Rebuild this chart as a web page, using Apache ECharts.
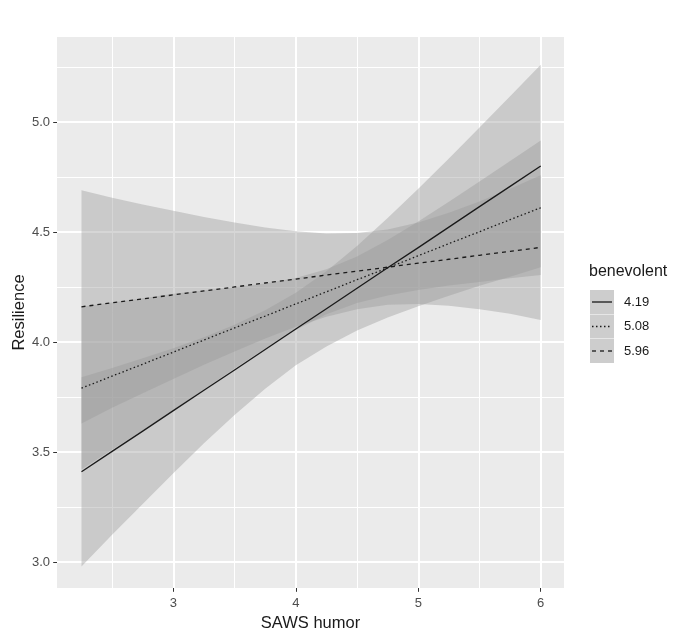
<!DOCTYPE html>
<html><head><meta charset="utf-8">
<script src="https://cdn.jsdelivr.net/npm/echarts@6/dist/echarts.min.js"></script>
<style>html,body{margin:0;padding:0;background:#fff}#c{width:685px;height:639px}</style>
</head><body><div id="c"></div>
<script>
// SAWS humor values at which fitted values / bands were read
const humor = [2.25, 2.5, 2.75, 3, 3.25, 3.5, 3.75, 4, 4.25, 4.5, 4.75, 5, 5.25, 5.5, 5.75, 6];
const levels = ['4.19', '5.08', '5.96'];

// benevolent = 4.19 (solid)
const fit419 = [3.410, 3.503, 3.595, 3.688, 3.781, 3.873, 3.966, 4.059, 4.151, 4.244, 4.337, 4.429, 4.522, 4.615, 4.707, 4.800];
const lo419  = [2.980, 3.124, 3.264, 3.404, 3.540, 3.668, 3.788, 3.894, 3.980, 4.052, 4.111, 4.162, 4.210, 4.255, 4.297, 4.340];
const hi419  = [3.840, 3.882, 3.926, 3.972, 4.022, 4.078, 4.144, 4.224, 4.322, 4.436, 4.563, 4.696, 4.834, 4.975, 5.117, 5.260];

// benevolent = 5.08 (dotted)
const fit508 = [3.790, 3.845, 3.899, 3.954, 4.009, 4.064, 4.118, 4.173, 4.228, 4.283, 4.337, 4.392, 4.447, 4.501, 4.556, 4.610];
const lo508  = [3.420, 3.510, 3.599, 3.689, 3.784, 3.879, 3.970, 4.055, 4.126, 4.177, 4.211, 4.236, 4.257, 4.273, 4.290, 4.304];
const hi508  = [4.160, 4.180, 4.199, 4.219, 4.234, 4.249, 4.266, 4.291, 4.330, 4.389, 4.463, 4.548, 4.637, 4.729, 4.822, 4.916];

// benevolent = 5.96 (dashed)
const fit596 = [4.160, 4.178, 4.196, 4.214, 4.232, 4.250, 4.268, 4.286, 4.304, 4.322, 4.340, 4.358, 4.376, 4.394, 4.412, 4.430];
const lo596  = [3.630, 3.701, 3.767, 3.832, 3.896, 3.957, 4.016, 4.069, 4.115, 4.149, 4.169, 4.173, 4.165, 4.149, 4.128, 4.100];
const hi596  = [4.690, 4.655, 4.625, 4.596, 4.568, 4.543, 4.520, 4.503, 4.493, 4.495, 4.511, 4.543, 4.587, 4.639, 4.696, 4.758];

const xTicks = [3, 4, 5, 6];
const xMinor = [2.5, 3.5, 4.5, 5.5];
const yTicks = [3.0, 3.5, 4.0, 4.5, 5.0];
const yMinor = [3.25, 3.75, 4.25, 4.75, 5.25];

const FONT = '"Liberation Sans", Arial, sans-serif';
const X_MIN = 2.05, X_MAX = 6.19, Y_MIN = 2.882, Y_MAX = 5.386;
const LINE_COLOR = '#1a1a1a';
const DASHES = ['solid', [1.5, 2.5], [4, 4]];

function band(lo, hi) {
  return {
    type: 'custom', silent: true, z: 1, clip: true,
    data: [[humor[0], lo[0]]],
    renderItem: function (params, api) {
      const pts = [];
      for (let i = 0; i < humor.length; i++) pts.push(api.coord([humor[i], hi[i]]));
      for (let i = humor.length - 1; i >= 0; i--) pts.push(api.coord([humor[i], lo[i]]));
      return { type: 'polygon', shape: { points: pts }, style: { fill: 'rgba(153,153,153,0.4)' } };
    }
  };
}
function line(name, fit, type) {
  return {
    type: 'line', name: name, z: 5, silent: true,
    data: humor.map((x, i) => [x, fit[i]]),
    symbol: 'none', showSymbol: false, animation: false,
    itemStyle: { color: LINE_COLOR },
    lineStyle: { color: LINE_COLOR, width: 1.3, type: type }
  };
}

// legend (ggplot style keys)
const legendGraphics = [
  { type: 'text', left: 589, top: 264, style: { text: 'benevolent', fill: '#1a1a1a', font: '16px ' + FONT } }
];
levels.forEach((lab, i) => {
  const top = 290 + i * 24.5;
  legendGraphics.push({ type: 'rect', shape: { x: 590, y: top, width: 24, height: 24 }, style: { fill: '#CDCDCD' }, silent: true });
  const dash = DASHES[i] === 'solid' ? null : DASHES[i];
  legendGraphics.push({ type: 'line', shape: { x1: 592, y1: top + 12, x2: 612, y2: top + 12 },
    style: { stroke: LINE_COLOR, lineWidth: 1.3, lineDash: dash }, silent: true });
  legendGraphics.push({ type: 'text', x: 624, y: top + 12,
    style: { text: lab, fill: '#1a1a1a', font: '13px ' + FONT, verticalAlign: 'middle', align: 'left' }, silent: true });
});

const chart = echarts.init(document.getElementById('c'), null, { renderer: 'canvas' });
chart.setOption({
  animation: false,
  backgroundColor: '#ffffff',
  grid: { left: 57, top: 37, width: 507, height: 551, show: true, backgroundColor: '#EBEBEB', borderWidth: 0,
          containLabel: false, outerBoundsMode: 'none' },
  xAxis: [
    {
      type: 'value', min: X_MIN, max: X_MAX,
      axisLine: { show: false },
      axisTick: { show: true, customValues: xTicks, length: 3.8, lineStyle: { color: '#333', width: 1 } },
      axisLabel: { customValues: xTicks, margin: 9, color: '#4d4d4d', fontSize: 13, fontFamily: FONT },
      splitLine: { show: true, lineStyle: { color: '#ffffff', width: 2 } },
      name: 'SAWS humor', nameLocation: 'middle', nameGap: 27, nameMoveOverlap: false,
      nameTextStyle: { color: '#1a1a1a', fontSize: 16.5, fontFamily: FONT }
    },
    {
      type: 'value', min: X_MIN, max: X_MAX, position: 'bottom',
      axisLine: { show: false },
      axisTick: { show: false, customValues: xMinor },
      axisLabel: { show: false, customValues: xMinor },
      splitLine: { show: true, lineStyle: { color: '#ffffff', width: 1 } }
    }
  ],
  yAxis: [
    {
      type: 'value', min: Y_MIN, max: Y_MAX,
      axisLine: { show: false },
      axisTick: { show: true, customValues: yTicks, length: 3.8, lineStyle: { color: '#333', width: 1 } },
      axisLabel: { customValues: yTicks, margin: 7, color: '#4d4d4d', fontSize: 13, fontFamily: FONT,
                   formatter: v => Number(v).toFixed(1) },
      splitLine: { show: true, lineStyle: { color: '#ffffff', width: 2 } },
      name: 'Resilience', nameLocation: 'middle', nameGap: 29, nameRotate: 90, nameMoveOverlap: false,
      nameTextStyle: { color: '#1a1a1a', fontSize: 16.5, fontFamily: FONT }
    },
    {
      type: 'value', min: Y_MIN, max: Y_MAX, position: 'left',
      axisLine: { show: false },
      axisTick: { show: false, customValues: yMinor },
      axisLabel: { show: false, customValues: yMinor },
      splitLine: { show: true, lineStyle: { color: '#ffffff', width: 1 } }
    }
  ],
  graphic: legendGraphics,
  series: [
    band(lo419, hi419), band(lo508, hi508), band(lo596, hi596),
    line(levels[0], fit419, DASHES[0]),
    line(levels[1], fit508, DASHES[1]),
    line(levels[2], fit596, DASHES[2])
  ]
});
</script>
</body></html>
